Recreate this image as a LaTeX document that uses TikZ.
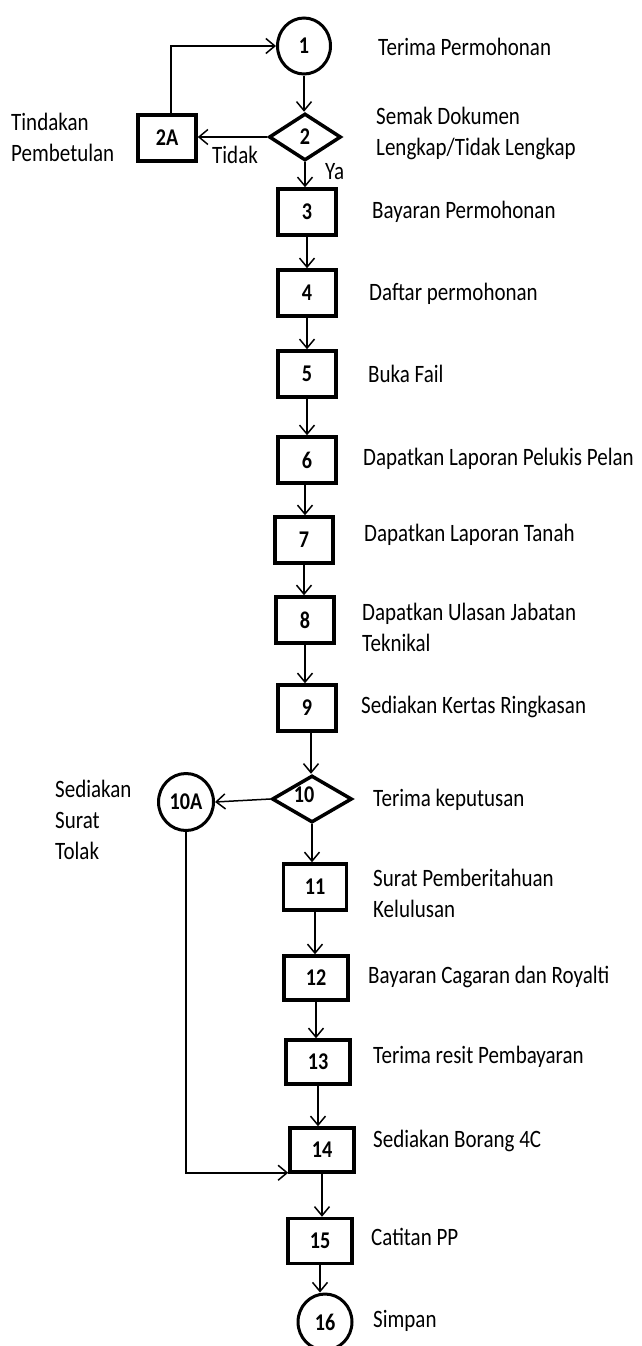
\documentclass[tikz,border=0pt]{standalone}
\usepackage{fontspec}
\setmainfont{Carlito}[FakeStretch=0.84]
\usetikzlibrary{shapes.geometric,arrows.meta}
\begin{document}
\begin{tikzpicture}[x=1pt,y=-1pt,
  box/.style={draw, line width=3.5pt, rectangle, minimum width=58pt, minimum height=46pt, inner sep=0pt, font=\fontsize{24}{28}\selectfont\bfseries},
  circ/.style={draw, line width=3pt, ellipse, minimum width=53pt, minimum height=56pt, inner sep=0pt, font=\fontsize{24}{28}\selectfont\bfseries},
  dia/.style={draw, line width=3.5pt, diamond, minimum width=72pt, minimum height=47pt, inner sep=0pt, font=\fontsize{24}{28}\selectfont\bfseries},
  lbl/.style={anchor=west, inner sep=0pt, align=left, font=\fontsize{25}{31}\selectfont},
  arr/.style={line width=1.5pt, -{Straight Barb[length=9pt,width=15pt,line width=1.5pt]}},
  ln/.style={line width=1.5pt}
]
\useasboundingbox (0,0) rectangle (641,1346);

% nodes
\node[circ] (c1) at (304,46) {1};
\node[dia] (d2) at (305,137) {2};
\node[box] (b2A) at (167,138) {2A};
\node[box] (b3) at (307,212) {3};
\node[box] (b4) at (307,293) {4};
\node[box] (b5) at (307,374) {5};
\node[box] (b6) at (307,460) {6};
\node[box] (b7) at (304,540) {7};
\node[box] (b8) at (305,620) {8};
\node[box] (b9) at (307,708) {9};
\node[dia, minimum width=80pt] (d10) at (312,799) {};
\node[font=\fontsize{24}{28}\selectfont\bfseries, inner sep=0pt] (t10) at (304,795) {10};
\node[circ, minimum width=55pt, minimum height=57pt] (c10A) at (186,802) {10A};
\node[box, minimum width=63pt] (b11) at (315,887) {11};
\node[box, minimum width=64pt, minimum height=44pt] (b12) at (316,978) {12};
\node[box, minimum width=64pt, minimum height=44pt] (b13) at (318,1062) {13};
\node[box, minimum width=64pt, minimum height=44pt] (b14) at (322,1150) {14};
\node[box, minimum width=64pt, minimum height=45pt] (b15) at (320,1241) {15};
\node[circ, minimum width=54pt] (c16) at (325,1322) {16};

% labels
\node[lbl] (l1) at (378,47) {Terima Permohonan};
\node[lbl] (l2) at (376,133) {Semak Dokumen\\Lengkap/Tidak Lengkap};
\node[lbl] (l2A) at (11,137) {Tindakan\\Pembetulan};
\node[lbl] (ltidak) at (212,155) {Tidak};
\node[lbl] (lya) at (325,172) {Ya};
\node[lbl] (l3) at (372,212) {Bayaran Permohonan};
\node[lbl] (l4) at (369,294) {Daftar permohonan};
\node[lbl] (l5) at (368,374) {Buka Fail};
\node[lbl] (l6) at (363,459) {Dapatkan Laporan Pelukis Pelan};
\node[lbl] (l7) at (364,535) {Dapatkan Laporan Tanah};
\node[lbl] (l8) at (362,627) {Dapatkan Ulasan Jabatan\\Teknikal};
\node[lbl] (l9) at (361,707) {Sediakan Kertas Ringkasan};
\node[lbl] (l10) at (373,800) {Terima keputusan};
\node[lbl] (l10A) at (55,820) {Sediakan\\Surat\\Tolak};
\node[lbl] (l11) at (373,893) {Surat Pemberitahuan\\Kelulusan};
\node[lbl] (l12) at (368,977) {Bayaran Cagaran dan Royalti};
\node[lbl] (l13) at (373,1057) {Terima resit Pembayaran};
\node[lbl] (l14) at (373,1141) {Sediakan Borang 4C};
\node[lbl] (l15) at (371,1237) {Catitan PP};
\node[lbl] (l16) at (373,1321) {Simpan};

% connectors
\draw[arr] (c1.south) -- (c1.south |- d2.north);
\draw[arr] (d2.west) -- (d2.west -| b2A.east);
\draw[arr] ([xshift=4pt]b2A.north) |- (c1.west);
\draw[arr] (d2.south) -- (d2.south |- b3.north);
\draw[arr] (b3.south) -- (b3.south |- b4.north);
\draw[arr] (b4.south) -- (b4.south |- b5.north);
\draw[arr] (b5.south) -- (b5.south |- b6.north);
\draw[arr] ([xshift=-2pt]b6.south) -- ([xshift=-2pt]b6.south |- b7.north);
\draw[arr] (b7.south) -- (b7.south |- b8.north);
\draw[arr] (b8.south) -- (b8.south |- b9.north);
\draw[arr] ([xshift=4pt]b9.south) -- ([xshift=4pt]b9.south |- d10.north);
\draw[arr] (d10.west) -- (c10A.east);
\draw[arr] (d10.south) -- (d10.south |- b11.north);
\draw[arr] (b11.south) -- (b11.south |- b12.north);
\draw[arr] (b12.south) -- (b12.south |- b13.north);
\draw[arr] (b13.south) -- (b13.south |- b14.north);
\draw[arr] (b14.south) -- (b14.south |- b15.north);
\draw[arr] (b15.south) -- (b15.south |- c16.north);
\draw[arr] (c10A.south) |- ([yshift=1pt]b14.south west);
\end{tikzpicture}
\end{document}
